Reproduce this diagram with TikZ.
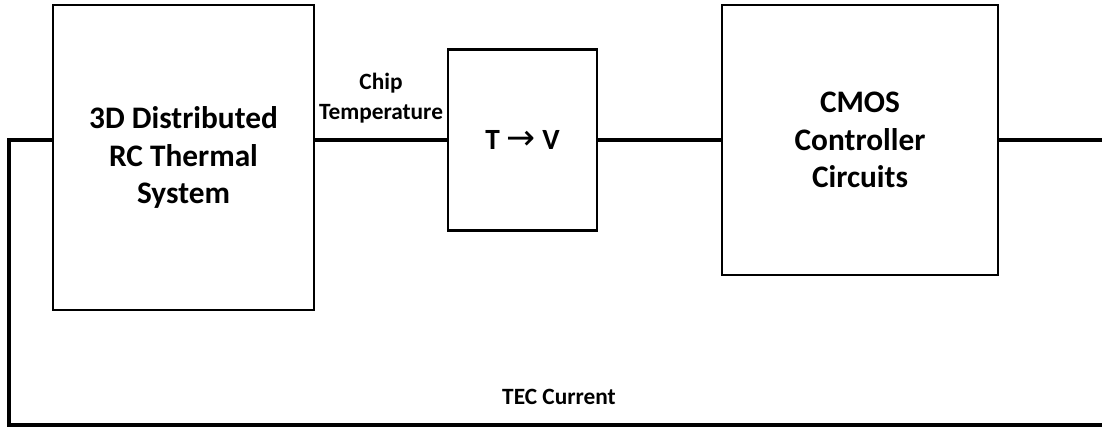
\documentclass[tikz,border=0pt]{standalone}
\usepackage{fontspec}
\setmainfont{Carlito}
\newfontfamily\arrowfont{DejaVu Sans}
\usetikzlibrary{positioning}

\begin{document}
\begin{tikzpicture}[
    x=0.75pt, y=-0.75pt,
    block/.style={draw, line width=1.6pt, inner sep=0pt, align=center,
      font=\fontsize{23.5}{28}\selectfont\bfseries},
    wire/.style={line width=2.4pt},
    lbl/.style={align=center, inner sep=0pt, font=\fontsize{17.5}{22.5}\selectfont\bfseries}
  ]
  \useasboundingbox (0,0) rectangle (1102,429);

  \node[block, minimum width=195.75pt, minimum height=228.75pt] (rc) at (183.5,157.5) {3D Distributed\\RC Thermal\\System};
  \node[block, minimum width=111.75pt, minimum height=135.75pt, font=\fontsize{22}{26}\selectfont\bfseries] (tv) at (522.5,140) {T {\arrowfont\mdseries\fontsize{26}{26}\selectfont →} V};
  \node[block, minimum width=207pt, minimum height=202.5pt] (cmos) at (860,140) {CMOS\\Controller\\Circuits};

  \coordinate (outr) at (1102,140);
  \coordinate (fbl) at (9,425);
  \coordinate (fbr) at (1102,425);

  \draw[wire] (rc.east |- tv.west) -- (tv.west);
  \draw[wire] (tv.east) -- (cmos.west);
  \draw[wire] (cmos.east) -- (outr);
  \draw[wire] (rc.west |- tv.west) -| (fbl) -- (fbr);

  \node[lbl] (chip) at (381,98) {Chip\\Temperature};
  \node[lbl] (tec) at (559,397) {TEC Current};

\end{tikzpicture}
\end{document}
